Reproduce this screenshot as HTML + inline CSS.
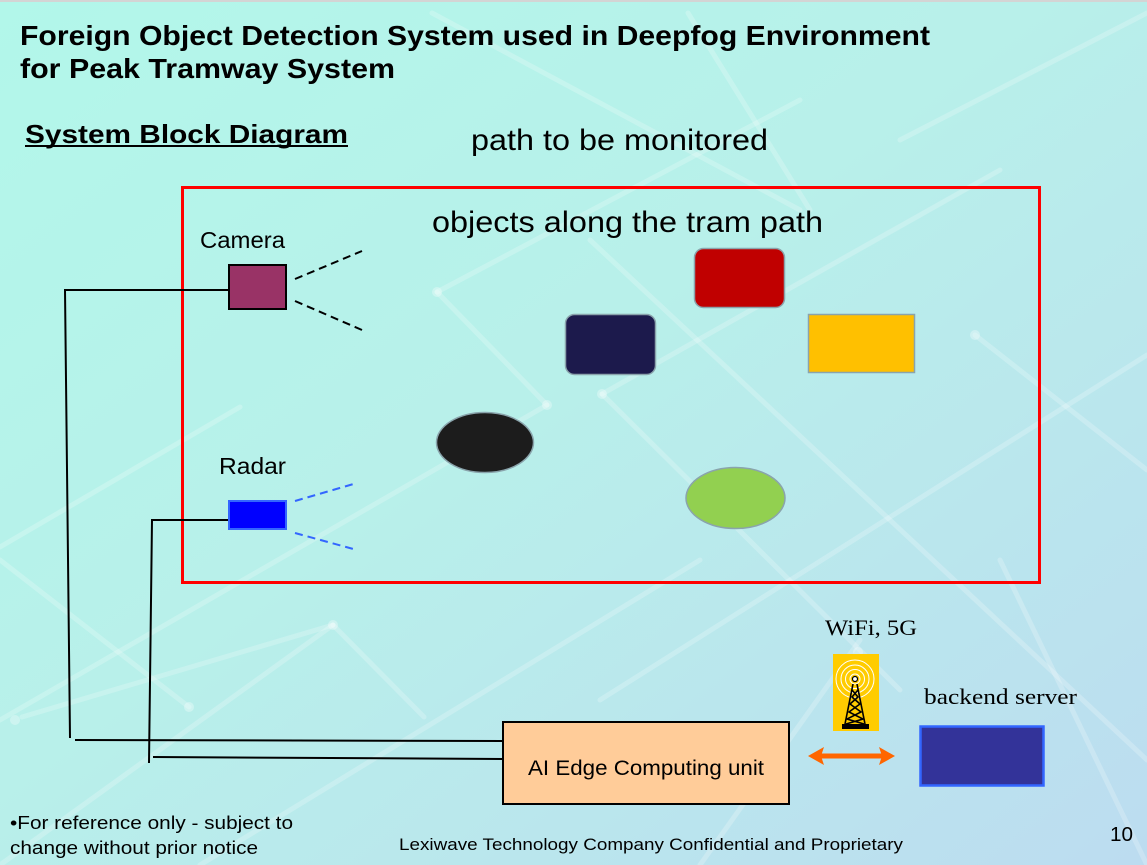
<!DOCTYPE html>
<html>
<head>
<meta charset="utf-8">
<style>
html,body{margin:0;padding:0;}
body{width:1147px;height:865px;overflow:hidden;}
svg{display:block;}
</style>
</head>
<body>
<svg width="1147" height="865" viewBox="0 0 1147 865" xmlns="http://www.w3.org/2000/svg">
<defs>
<linearGradient id="bg" x1="0" y1="0" x2="1" y2="1">
<stop offset="0" stop-color="#b2f7ea"/>
<stop offset="0.45" stop-color="#b8f0ea"/>
<stop offset="1" stop-color="#bcdcf0"/>
</linearGradient>
</defs>
<rect x="0" y="0" width="1147" height="865" fill="url(#bg)"/>
<rect x="0" y="0" width="1147" height="2" fill="#d4d4d4"/>

<!-- faint background lines -->
<g stroke="#ffffff" stroke-opacity="0.22" stroke-width="5" fill="none" stroke-linecap="round">
<line x1="432" y1="13" x2="800" y2="210"/>
<line x1="688" y1="13" x2="810" y2="210"/>
<line x1="1147" y1="13" x2="900" y2="140"/>
<line x1="437" y1="292" x2="547" y2="405"/>
<line x1="437" y1="292" x2="800" y2="100"/>
<line x1="547" y1="405" x2="0" y2="720"/>
<line x1="240" y1="407" x2="0" y2="547"/>
<line x1="602" y1="394" x2="1000" y2="170"/>
<line x1="602" y1="394" x2="900" y2="690"/>
<line x1="590" y1="240" x2="1147" y2="760"/>
<line x1="1147" y1="355" x2="600" y2="700"/>
<line x1="975" y1="335" x2="1147" y2="470"/>
<line x1="333" y1="625" x2="22" y2="717"/>
<line x1="333" y1="625" x2="424" y2="717"/>
<line x1="189" y1="707" x2="0" y2="560"/>
<line x1="860" y1="640" x2="700" y2="865"/>
<line x1="1000" y1="560" x2="1147" y2="865"/>
<line x1="0" y1="865" x2="333" y2="625"/>
<line x1="200" y1="865" x2="700" y2="560"/>
</g>
<g fill="#ffffff" fill-opacity="0.3">
<circle cx="437" cy="292" r="5"/>
<circle cx="547" cy="405" r="5"/>
<circle cx="602" cy="394" r="5"/>
<circle cx="975" cy="335" r="5"/>
<circle cx="333" cy="625" r="5"/>
<circle cx="189" cy="707" r="5"/>
<circle cx="15" cy="720" r="5"/>
<circle cx="858" cy="652" r="5"/>
</g>

<!-- Titles -->
<g font-family="'Liberation Sans', Arial, sans-serif" font-weight="bold" fill="#000">
<text x="20" y="45" font-size="28" textLength="910" lengthAdjust="spacingAndGlyphs">Foreign Object Detection System used in Deepfog Environment</text>
<text x="20" y="78" font-size="28" textLength="375" lengthAdjust="spacingAndGlyphs">for Peak Tramway System</text>
<text x="25" y="143" font-size="26" textLength="323" lengthAdjust="spacingAndGlyphs">System Block Diagram</text>
</g>
<rect x="25" y="145" width="323" height="2" fill="#000"/>

<g font-family="'Liberation Sans', Arial, sans-serif" fill="#000">
<text x="471" y="150" font-size="30" textLength="297" lengthAdjust="spacingAndGlyphs">path to be monitored</text>
<text x="432" y="232" font-size="30" textLength="391" lengthAdjust="spacingAndGlyphs">objects along the tram path</text>
<text x="200" y="248" font-size="23" textLength="85" lengthAdjust="spacingAndGlyphs">Camera</text>
<text x="219" y="474" font-size="23" textLength="67" lengthAdjust="spacingAndGlyphs">Radar</text>
</g>

<!-- red monitored region -->
<rect x="182.5" y="187.5" width="857" height="395" fill="none" stroke="#ff0000" stroke-width="3"/>

<!-- wiring -->
<g stroke="#000" stroke-width="2" fill="none">
<polyline points="229,290 65,290 70,738"/>
<line x1="75" y1="740" x2="503" y2="741"/>
<polyline points="229,520 152,520 149,763"/>
<line x1="153" y1="757" x2="503" y2="759"/>
</g>

<!-- camera -->
<rect x="229" y="265" width="57" height="44" fill="#993366" stroke="#000" stroke-width="2"/>
<g stroke="#000" stroke-width="2" stroke-dasharray="8,5">
<line x1="295" y1="279" x2="362" y2="251"/>
<line x1="295" y1="301" x2="362" y2="330"/>
</g>

<!-- radar -->
<rect x="229" y="501" width="57" height="28" fill="#0000ff" stroke="#3366ff" stroke-width="2"/>
<g stroke="#3366ff" stroke-width="2" stroke-dasharray="8,5">
<line x1="295" y1="501" x2="357" y2="483"/>
<line x1="295" y1="533" x2="357" y2="550"/>
</g>

<!-- objects -->
<g stroke="#8aa4ac" stroke-width="1.5">
<rect x="694.5" y="248.5" width="90" height="59" rx="9" fill="#c00000"/>
<rect x="565.5" y="314.5" width="90" height="60" rx="9" fill="#1c1a4c"/>
<rect x="808.5" y="314.5" width="106" height="58" fill="#ffc000"/>
<ellipse cx="485" cy="442.5" rx="48.5" ry="30" fill="#1c1c1c"/>
<ellipse cx="735.5" cy="498" rx="49.5" ry="30.5" fill="#92d050"/>
</g>

<!-- AI edge unit -->
<rect x="503" y="722" width="286" height="82" fill="#ffcc99" stroke="#000" stroke-width="2"/>
<text x="528" y="775" font-family="'Liberation Sans', Arial, sans-serif" font-size="21" textLength="236" lengthAdjust="spacingAndGlyphs" fill="#000">AI Edge Computing unit</text>

<!-- orange double arrow -->
<g fill="#ff6600">
<rect x="818" y="753.5" width="66" height="5"/>
<polygon points="808,756 824,747 821,756 824,765"/>
<polygon points="895,756 879,747 882,756 879,765"/>
</g>

<!-- WiFi tower -->
<text x="825" y="635" font-family="'Liberation Serif', 'Times New Roman', serif" font-size="22" textLength="92" lengthAdjust="spacingAndGlyphs" fill="#000">WiFi, 5G</text>
<rect x="833" y="654" width="46" height="77" fill="#ffcc00"/>
<g stroke="#ffffff" stroke-width="1" fill="none">
<circle cx="855" cy="679" r="5"/>
<circle cx="855" cy="679" r="9.5"/>
<circle cx="855" cy="679" r="14"/>
<circle cx="855" cy="679" r="19"/>
</g>
<g stroke="#000" stroke-width="1.6" fill="none">
<line x1="853" y1="684" x2="845" y2="724"/>
<line x1="857" y1="684" x2="865" y2="724"/>
<polyline points="852,690 858,697 850,704 861,712 847,719 864,724"/>
<polyline points="858,690 852,697 860,704 849,712 863,719 846,724"/>
</g>
<circle cx="855" cy="679" r="2.5" fill="#fff" stroke="#000" stroke-width="1.2"/>
<rect x="842" y="724" width="27" height="5" fill="#000"/>

<!-- backend server -->
<text x="924" y="704" font-family="'Liberation Serif', 'Times New Roman', serif" font-size="22" textLength="153" lengthAdjust="spacingAndGlyphs" fill="#000">backend server</text>
<rect x="920.5" y="726.5" width="123" height="59" fill="#333399" stroke="#3366ff" stroke-width="2.5"/>

<!-- footer -->
<g font-family="'Liberation Sans', Arial, sans-serif" fill="#000">
<text x="10" y="829" font-size="18" textLength="283" lengthAdjust="spacingAndGlyphs">•For reference only - subject to</text>
<text x="10" y="854" font-size="18" textLength="248" lengthAdjust="spacingAndGlyphs">change without prior notice</text>
<text x="399" y="850" font-size="17" textLength="504" lengthAdjust="spacingAndGlyphs">Lexiwave Technology Company Confidential and Proprietary</text>
<text x="1110" y="841" font-size="20" textLength="23" lengthAdjust="spacingAndGlyphs">10</text>
</g>
</svg>
</body>
</html>
